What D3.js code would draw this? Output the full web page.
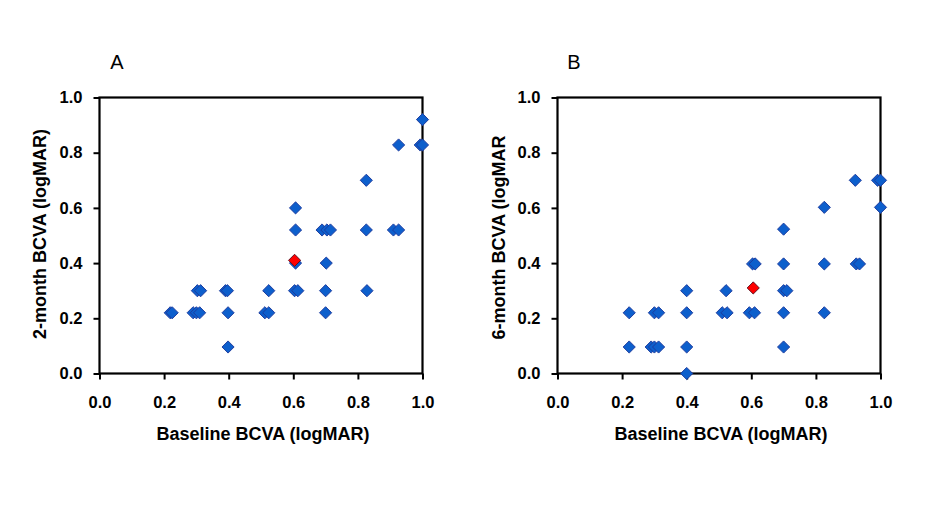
<!DOCTYPE html>
<html>
<head>
<meta charset="utf-8">
<script src="https://cdn.jsdelivr.net/npm/d3@7"></script>
<style>
  body { margin: 0; background: #fff; }
  svg { display: block; font-family: Arial, "Liberation Sans", sans-serif; }
  .tick text { font-size: 16.5px; font-weight: bold; fill: #000; }
  .tick line { stroke: #000; stroke-width: 2; }
  .axis-title { font-size: 18px; font-weight: bold; }
  .panel-label { font-size: 20px; }
</style>
</head>
<body>
<script>
// Panel A: baseline vs 2-month BCVA
const baselineA = [0.219, 0.225, 0.29, 0.30, 0.31, 0.303, 0.313, 0.39, 0.396, 0.398, 0.398, 0.512, 0.524, 0.524,
  0.607, 0.607, 0.607, 0.604, 0.614, 0.689, 0.704, 0.715, 0.702, 0.70, 0.70, 0.826, 0.826, 0.828,
  0.926, 0.91, 0.926, 0.993, 1.0, 1.0];
const month2A = [0.22, 0.22, 0.22, 0.22, 0.22, 0.30, 0.30, 0.30, 0.30, 0.22, 0.096, 0.22, 0.22, 0.30,
  0.60, 0.52, 0.40, 0.30, 0.30, 0.52, 0.52, 0.52, 0.40, 0.30, 0.22, 0.70, 0.52, 0.30,
  0.828, 0.52, 0.52, 0.828, 0.828, 0.92];
const meanA = [0.604, 0.41];

// Panel B: baseline vs 6-month BCVA
const baselineB = [0.222, 0.222, 0.30, 0.313, 0.29, 0.30, 0.313, 0.40, 0.40, 0.40, 0.40, 0.522, 0.51, 0.525,
  0.594, 0.61, 0.604, 0.612, 0.70, 0.70, 0.70, 0.71, 0.70, 0.70, 0.826, 0.826, 0.826,
  0.922, 0.925, 0.935, 0.991, 1.0, 1.0];
const month6B = [0.22, 0.096, 0.22, 0.22, 0.096, 0.096, 0.096, 0.30, 0.22, 0.096, 0.0, 0.30, 0.22, 0.22,
  0.22, 0.22, 0.397, 0.397, 0.523, 0.397, 0.30, 0.30, 0.22, 0.096, 0.602, 0.397, 0.22,
  0.70, 0.397, 0.397, 0.70, 0.70, 0.602];
const meanB = [0.606, 0.31];

const ticks = [0, 0.2, 0.4, 0.6, 0.8, 1.0];

const width = 934, height = 506;
const svg = d3.select("body").append("svg")
  .attr("width", width)
  .attr("height", height);

const panels = [
  {label: "A", left: 99.5, xs: baselineA, ys: month2A, mean: meanA,
   ytitle: "2-month BCVA (logMAR)", ytx: 46, yty: 234, labelX: 117},
  {label: "B", left: 557.5, xs: baselineB, ys: month6B, mean: meanB,
   ytitle: "6-month BCVA (logMAR", ytx: 505, yty: 237.5, labelX: 574}
];

const plotW = 323, plotTop = 97.5, plotBottom = 373.5;
const diamond = d3.symbol().type(d3.symbolSquare).size(74);

panels.forEach(p => {
  let x = d3.scaleLinear().domain([0, 1]).range([p.left, p.left + plotW]);
  let y = d3.scaleLinear().domain([0, 1]).range([plotBottom, plotTop]);

  let g = svg.append("g");

  // axes
  g.append("g")
    .attr("transform", `translate(0,${plotBottom})`)
    .call(d3.axisBottom(x).tickValues(ticks).tickSize(6).tickPadding(17).tickFormat(d3.format(".1f")))
    .call(a => a.select(".domain").remove());

  g.append("g")
    .attr("transform", `translate(${p.left},0)`)
    .call(d3.axisLeft(y).tickValues(ticks).tickSize(6).tickPadding(11).tickFormat(d3.format(".1f")))
    .call(a => a.select(".domain").remove());

  // frame
  g.append("rect")
    .attr("x", x(0))
    .attr("y", y(1))
    .attr("width", x(1) - x(0))
    .attr("height", y(0) - y(1))
    .attr("fill", "none")
    .attr("stroke", "#000")
    .attr("stroke-width", 2.2);

  // points
  g.selectAll(".pt")
    .data(p.xs.map((v, i) => [v, p.ys[i]]))
    .enter().append("path")
    .attr("class", "pt")
    .attr("d", diamond)
    .attr("transform", d => `translate(${x(d[0])},${y(d[1])}) rotate(45)`)
    .attr("fill", "#0d5fcc")
    .attr("stroke", "#1c3a9c")
    .attr("stroke-width", 0.9);

  g.append("path")
    .attr("d", diamond)
    .attr("transform", `translate(${x(p.mean[0])},${y(p.mean[1])}) rotate(45)`)
    .attr("fill", "#ff0000")
    .attr("stroke", "#5a1020")
    .attr("stroke-width", 0.9);

  // titles
  g.append("text")
    .attr("class", "axis-title")
    .attr("text-anchor", "middle")
    .attr("x", (x(0) + x(1)) / 2 + 2)
    .attr("y", 440)
    .text("Baseline BCVA (logMAR)");

  g.append("text")
    .attr("class", "axis-title")
    .attr("text-anchor", "middle")
    .attr("transform", `translate(${p.ytx},${p.yty})rotate(-90)`)
    .text(p.ytitle);

  g.append("text")
    .attr("class", "panel-label")
    .attr("text-anchor", "middle")
    .attr("x", p.labelX)
    .attr("y", 69)
    .text(p.label);
});
</script>
</body>
</html>
